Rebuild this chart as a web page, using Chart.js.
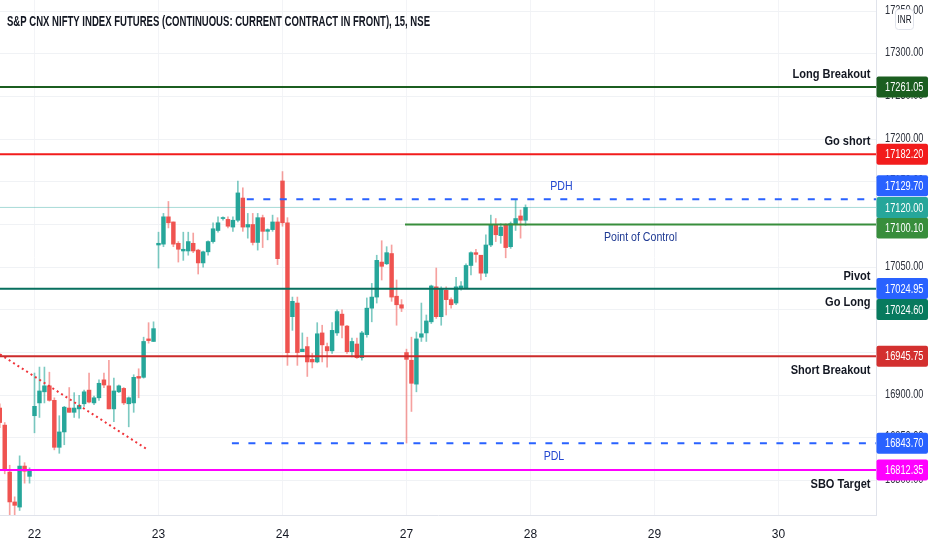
<!DOCTYPE html>
<html>
<head>
<meta charset="utf-8">
<title>NIFTY futures 15m levels</title>
<script src="https://cdn.jsdelivr.net/npm/chart.js@4.4.1/dist/chart.umd.min.js"></script>
<style>
  html, body { margin: 0; padding: 0; background: #ffffff; }
  #wrap { width: 932px; height: 550px; position: relative; }
</style>
</head>
<body>
<div id="wrap"><canvas id="chart"></canvas></div>
<script>
'use strict';

// ---- data (15 minute bars, index 0 = first visible bar) ----
const dayLabels = ['22', '23', '24', '27', '28', '29', '30'];
const dayStartBar = [7, 32, 57, 82, 107, 132, 157];

const opens = [
  16885, 16865, 16810, 16775, 16769, 16817, 16805,
  16876, 16891, 16904, 16911, 16894, 16839, 16857, 16885, 16880, 16884, 16890, 16906, 16891, 16897,
  16918, 16911, 16884, 16904, 16908, 16890, 16891, 16922, 16921, 16966, 16963,
  17076, 17077, 17109, 17103, 17078, 17069, 17069, 17078, 17070, 17055, 17068, 17080, 17093, 17107,
  17106, 17097, 17105, 17131, 17097, 17100, 17079, 17108, 17092, 17094, 17103,
  17151, 17102, 16992, 17008, 16951, 16957, 16942, 16939, 16973, 16957, 16952, 16973, 16995, 16981,
  16951, 16960, 16944, 16971, 17002, 17015, 17056, 17054, 17066, 17016, 17006,
  16950, 16941, 16913, 16968, 16973, 16986, 17027, 16992, 17023, 17012, 17008, 17025, 17026, 17052,
  17067, 17064, 17043, 17076, 17099, 17087, 17100, 17074, 17101, 17110, 17105,
];
const highs = [
  16890, 16868, 16818, 16781, 16829, 16821, 16815,
  16926, 16933, 16933, 16927, 16897, 16876, 16887, 16909, 16903, 16900, 16906, 16926, 16899, 16918,
  16926, 16941, 16920, 16912, 16909, 16898, 16924, 16931, 16968, 16985, 16986,
  17091, 17113, 17127, 17103, 17080, 17091, 17091, 17090, 17071, 17069, 17081, 17102, 17109, 17109,
  17109, 17109, 17151, 17143, 17113, 17113, 17113, 17111, 17095, 17111, 17108,
  17162, 17108, 17015, 17015, 16973, 16968, 16949, 16985, 16982, 16961, 16985, 17000, 17000, 16982,
  16967, 16967, 16975, 17014, 17031, 17064, 17081, 17074, 17076, 17035, 17012,
  16954, 16968, 16974, 17008, 16994, 17029, 17049, 17027, 17027, 17014, 17038, 17033, 17054, 17068,
  17071, 17064, 17088, 17111, 17107, 17101, 17101, 17103, 17129, 17117, 17123,
];
const lows = [
  16862, 16808, 16757, 16760, 16765, 16797, 16797,
  16856, 16874, 16891, 16893, 16836, 16832, 16842, 16880, 16874, 16873, 16887, 16891, 16889, 16894,
  16909, 16884, 16869, 16903, 16889, 16863, 16880, 16897, 16920, 16961, 16963,
  17049, 17074, 17096, 17074, 17056, 17058, 17064, 17067, 17042, 17050, 17064, 17078, 17091, 17105,
  17096, 17092, 17103, 17092, 17084, 17076, 17070, 17073, 17082, 17092, 17053,
  17098, 16935, 16976, 16935, 16951, 16922, 16932, 16938, 16939, 16933, 16949, 16970, 16967, 16949,
  16945, 16943, 16941, 16968, 16986, 17008, 17035, 17053, 17010, 16982, 16998,
  16844, 16881, 16904, 16963, 16963, 16984, 16990, 16982, 16994, 17002, 17006, 17023, 17025, 17041,
  17056, 17035, 17039, 17074, 17080, 17078, 17061, 17072, 17093, 17084, 17099,
];
const closes = [
  16868, 16812, 16775, 16771, 16817, 16811, 16813,
  16887, 16905, 16911, 16894, 16839, 16857, 16886, 16880, 16885, 16888, 16904, 16892, 16897, 16914,
  16912, 16884, 16905, 16911, 16891, 16897, 16921, 16920, 16963, 16964, 16978,
  17078, 17109, 17102, 17077, 17071, 17071, 17080, 17069, 17055, 17068, 17080, 17095, 17102, 17108,
  17098, 17105, 17137, 17097, 17100, 17079, 17108, 17092, 17094, 17103, 17060,
  17102, 16950, 17010, 16950, 16954, 16939, 16939, 16972, 16959, 16952, 16976, 16998, 16982, 16951,
  16963, 16944, 16973, 17002, 17015, 17058, 17051, 17067, 17015, 17006, 17002,
  16942, 16914, 16966, 16972, 16987, 17028, 16992, 17024, 17012, 17006, 17027, 17028, 17052, 17067,
  17065, 17043, 17076, 17100, 17088, 17097, 17073, 17101, 17107, 17105, 17120,
];

// horizontal levels drawn on the chart
const levelNames = ['Long Breakout', 'Go short', 'PDH', 'Point of Control', 'Pivot', 'Go Long', 'Short Breakout', 'PDL', 'SBO Target'];
const levelPrices = [17261.05, 17182.20, 17129.70, 17100.10, 17024.95, 17024.60, 16945.75, 16843.70, 16812.35];
const levelStartBar = [0, 0, 49.8, 81.7, 0, 0, 0, 46.8, 0];

// dotted trend line
const trendBars = [0.05, 29.6];
const trendPrices = [16948, 16837];

const title = 'S&P CNX NIFTY INDEX FUTURES (CONTINUOUS: CURRENT CONTRACT IN FRONT), 15, NSE';
const currency = 'INR';

// ---- view / style ----
const X_MIN = 0.044;
const X_MAX = 176.66;
const Y_MIN = 16759.7;
const Y_MAX = 17363;
const FONT = "'Liberation Sans', Arial, sans-serif";
const TEXT = '#131722';

const CANDLE = {
  up: '#26a69a',
  down: '#ef5350',
  upWick: 'rgba(38,166,154,0.6)',
  downWick: 'rgba(239,83,80,0.55)',
};

// line style, label placement and price badge per level
const LEVEL_STYLE = {
  'Long Breakout':    { color: '#1b5e20', width: 2, label: 'right',  side: 'above', badge: '#1b5e20', nudge: 0 },
  'Go short':         { color: '#f21c1c', width: 2, label: 'right',  side: 'above', badge: '#f21c1c', nudge: 0 },
  'PDH':              { color: '#2962ff', width: 2, dash: [7, 9.5], label: 'center', side: 'above', text: '#2448d0', regular: true, badge: '#2962ff', nudge: -13.5 },
  'Point of Control': { color: '#388e3c', width: 2, label: 'center', side: 'below', text: '#1f3a93', regular: true, badge: '#388e3c', nudge: 3.5 },
  'Pivot':            { color: '#2962ff', width: 1, label: 'right',  side: 'above', badge: '#2962ff', nudge: 0 },
  'Go Long':          { color: '#08705e', width: 2, label: 'right',  side: 'below', badge: '#087a5e', nudge: 20.7 },
  'Short Breakout':   { color: '#cc2b2b', width: 2, label: 'right',  side: 'below', badge: '#d3302f', nudge: 0 },
  'PDL':              { color: '#2962ff', width: 2, dash: [7, 9.5], label: 'center', side: 'below', text: '#2448d0', regular: true, badge: '#2962ff', nudge: 0 },
  'SBO Target':       { color: '#ff00ff', width: 2, label: 'right',  side: 'below', badge: '#ff00ff', nudge: 0 },
};

// the reference uses narrow faces; squeeze each kind of text to its measured width
const SQUEEZE = {
  price: { font: `13px ${FONT}`, sample: '17300.00', width: 38.5 },
  level: { font: `bold 13px ${FONT}`, sample: 'Long Breakout', width: 78 },
  note: { font: `12px ${FONT}`, sample: 'Point of Control', width: 73 },
  small: { font: `10.5px ${FONT}`, sample: 'INR', width: 14 },
};

function squeezeFactor(ctx, kind) {
  const s = SQUEEZE[kind];
  ctx.save();
  ctx.font = s.font;
  const w = ctx.measureText(s.sample).width;
  ctx.restore();
  return s.width / w;
}

/**
 * Draw text squeezed horizontally
 */
function drawText(ctx, text, x, y, opts) {
  ctx.save();
  ctx.font = opts.font;
  ctx.fillStyle = opts.color || TEXT;
  ctx.textBaseline = opts.baseline || 'middle';
  ctx.textAlign = 'left';
  const raw = ctx.measureText(text).width;
  const sx = opts.fit ? opts.fit / raw : opts.sx;
  const w = raw * sx;
  let left = x;
  if (opts.align === 'right') left = x - w;
  if (opts.align === 'center') left = x - w / 2;
  ctx.translate(left, y);
  ctx.scale(sx, 1);
  ctx.fillText(text, 0, 0);
  ctx.restore();
}

function roundRect(ctx, x, y, w, h, r) {
  ctx.beginPath();
  ctx.moveTo(x + r, y);
  ctx.lineTo(x + w - r, y);
  ctx.quadraticCurveTo(x + w, y, x + w, y + r);
  ctx.lineTo(x + w, y + h - r);
  ctx.quadraticCurveTo(x + w, y + h, x + w - r, y + h);
  ctx.lineTo(x + r, y + h);
  ctx.quadraticCurveTo(x, y + h, x, y + h - r);
  ctx.lineTo(x, y + r);
  ctx.quadraticCurveTo(x, y, x + r, y);
  ctx.closePath();
}

// price axis labels, level labels, badges and the header
const overlayPlugin = {
  id: 'tvOverlay',
  afterDraw(chart) {
    const { ctx, chartArea, scales } = chart;
    const y = scales.y;
    const x = scales.x;
    const priceSx = squeezeFactor(ctx, 'price');
    const levelSx = squeezeFactor(ctx, 'level');
    const noteSx = squeezeFactor(ctx, 'note');
    const labelX = chartArea.right + 9;

    // price axis labels
    y.ticks.forEach((t) => {
      drawText(ctx, t.value.toFixed(2), labelX, y.getPixelForValue(t.value) - 1, {
        font: SQUEEZE.price.font, color: '#2a2e39', sx: priceSx,
      });
    });

    // level texts
    levelNames.forEach((name, k) => {
      const st = LEVEL_STYLE[name];
      const py = y.getPixelForValue(levelPrices[k]);
      let tx;
      let align;
      if (st.label === 'right') {
        tx = chartArea.right - 5.5;
        align = 'right';
      } else {
        const x0 = Math.max(x.getPixelForValue(levelStartBar[k]), chartArea.left);
        tx = (x0 + chartArea.right) / 2;
        align = 'center';
      }
      const ty = st.side === 'above' ? py - 9 : py + 7.5;
      drawText(ctx, name, tx, ty, {
        font: st.regular ? SQUEEZE.note.font : SQUEEZE.level.font,
        color: st.text || TEXT,
        align,
        baseline: st.side === 'above' ? 'alphabetic' : 'top',
        sx: st.regular ? noteSx : levelSx,
      });
    });

    // price badges
    const badge = (value, color, nudge) => {
      const cy = y.getPixelForValue(value) + nudge;
      ctx.save();
      ctx.fillStyle = color;
      roundRect(ctx, chartArea.right + 0.5, cy - 10.5, 51.5, 21, 2);
      ctx.fill();
      ctx.restore();
      drawText(ctx, value.toFixed(2), labelX, cy + 0.5, {
        font: SQUEEZE.price.font, color: '#ffffff', sx: priceSx,
      });
    };
    levelNames.forEach((name, k) => {
      const st = LEVEL_STYLE[name];
      badge(levelPrices[k], st.badge, st.nudge);
    });
    badge(closes[closes.length - 1], CANDLE.up, 0);

    // currency box
    ctx.save();
    ctx.fillStyle = '#ffffff';
    ctx.strokeStyle = '#e0e3eb';
    ctx.lineWidth = 1;
    roundRect(ctx, 895.5, 9.5, 18, 20, 3);
    ctx.fill();
    ctx.stroke();
    ctx.restore();
    drawText(ctx, currency, 904.5, 20, {
      font: SQUEEZE.small.font, align: 'center', sx: squeezeFactor(ctx, 'small'),
    });

    // header
    drawText(ctx, title, 7, 21.5, { font: `bold 15px ${FONT}`, fit: 423 });
  },
};

const barIdx = opens.map((_, i) => i);
const isUp = (i) => closes[i] >= opens[i];

const bodyDataset = {
  type: 'bar',
  label: 'body',
  data: barIdx.map((i) => ({ x: i, y: [opens[i], closes[i]] })),
  backgroundColor: (c) => (isUp(c.dataIndex) ? CANDLE.up : CANDLE.down),
  barThickness: 3.8,
  minBarLength: 1,
  grouped: false,
  order: 2,
  clip: 0,
};

const wickDataset = {
  type: 'bar',
  label: 'wick',
  data: barIdx.map((i) => ({ x: i, y: [lows[i], highs[i]] })),
  backgroundColor: (c) => (isUp(c.dataIndex) ? CANDLE.upWick : CANDLE.downWick),
  barThickness: 1,
  grouped: false,
  order: 3,
  clip: 0,
};

const lastPriceDataset = {
  type: 'line',
  label: 'last',
  data: [{ x: X_MIN, y: closes[closes.length - 1] }, { x: X_MAX, y: closes[closes.length - 1] }],
  borderColor: 'rgba(38,166,154,0.4)',
  borderWidth: 1,
  pointRadius: 0,
  order: 1,
  clip: 0,
};

const levelDatasets = levelNames.map((name, k) => {
  const st = LEVEL_STYLE[name];
  return {
    type: 'line',
    label: name,
    data: [
      { x: Math.max(levelStartBar[k], X_MIN), y: levelPrices[k] },
      { x: X_MAX, y: levelPrices[k] },
    ],
    borderColor: st.color,
    borderWidth: st.width,
    borderDash: st.dash || [],
    pointRadius: 0,
    order: name === 'Pivot' ? 0.5 : 0,
    clip: 0,
  };
});

const trendDataset = {
  type: 'line',
  label: 'trend',
  data: trendBars.map((b, k) => ({ x: b, y: trendPrices[k] })),
  borderColor: '#f0343a',
  borderWidth: 2,
  borderDash: [2, 3.2],
  pointRadius: 0,
  order: 0,
  clip: 0,
};

new Chart(document.getElementById('chart'), {
  type: 'bar',
  data: {
    datasets: [bodyDataset, wickDataset, lastPriceDataset, ...levelDatasets, trendDataset],
  },
  options: {
    responsive: true,
    maintainAspectRatio: false,
    animation: false,
    events: [],
    layout: { padding: 0 },
    plugins: {
      legend: { display: false },
      tooltip: { enabled: false },
    },
    scales: {
      x: {
        type: 'linear',
        position: 'bottom',
        min: X_MIN,
        max: X_MAX,
        offset: false,
        grid: { color: '#f3f4f7', drawTicks: false, offset: false },
        border: { color: '#e0e3eb' },
        ticks: {
          padding: 12,
          autoSkip: false,
          maxRotation: 0,
          color: TEXT,
          font: { size: 12, family: FONT },
          callback: (v) => dayLabels[dayStartBar.indexOf(v)] || '',
        },
        afterBuildTicks: (axis) => {
          axis.ticks = dayStartBar.map((v) => ({ value: v }));
        },
        afterFit: (axis) => {
          axis.height = 35;
        },
      },
      y: {
        type: 'linear',
        position: 'right',
        min: Y_MIN,
        max: Y_MAX,
        grid: { color: '#f0f2f5', drawTicks: false },
        border: { color: '#e0e3eb' },
        ticks: { stepSize: 50, includeBounds: false, display: false },
        afterFit: (axis) => {
          axis.width = 56;
        },
      },
    },
  },
  plugins: [overlayPlugin],
});
</script>
</body>
</html>
